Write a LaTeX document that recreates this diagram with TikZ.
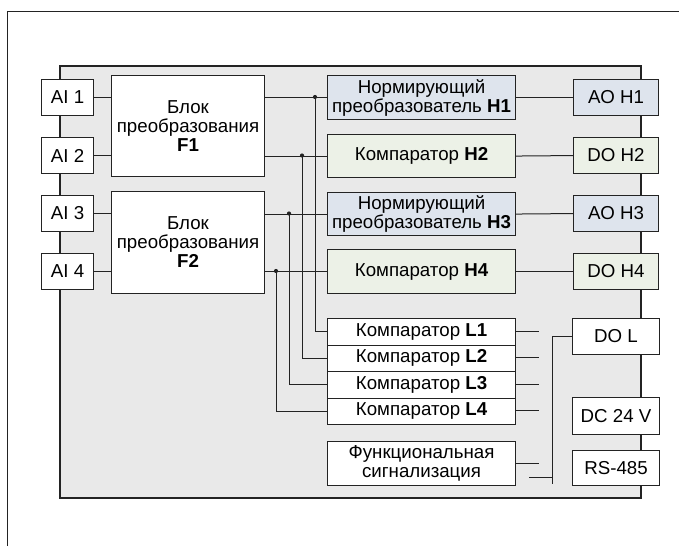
\documentclass[tikz,border=0pt]{standalone}
\usepackage{fontspec}
\setmainfont{Liberation Sans}
\definecolor{panel}{RGB}{233,233,233}
\definecolor{bluef}{RGB}{222,228,237}
\definecolor{greenf}{RGB}{236,241,231}
\definecolor{edge}{RGB}{35,35,35}
\begin{document}
\begin{tikzpicture}[x=1pt,y=-1pt,
  box/.style={draw=edge, line width=1.1pt, fill=white, inner sep=0pt, anchor=north west, align=center, font=\fontsize{18.7}{19}\selectfont},
  conn/.style={draw=edge, line width=1pt},
  dot/.style={circle, fill=edge, inner sep=0pt, minimum size=4.2pt}]
\useasboundingbox (0,0) rectangle (679,546);
% outer frame (partial)
\draw[edge, line width=1pt] (7,546) -- (7,11) -- (679,11);
% panel
\draw[draw=edge, line width=1.1pt, fill=panel] (60,66) rectangle (641,498);
% inputs
\node[box, minimum width=52pt, minimum height=36pt] (AI1) at (41,79) {AI 1};
\node[box, minimum width=52pt, minimum height=36pt] (AI2) at (41,137) {AI 2};
\node[box, minimum width=52pt, minimum height=36pt] (AI3) at (41,195) {AI 3};
\node[box, minimum width=52pt, minimum height=36pt] (AI4) at (41,253) {AI 4};
% blocks
\node[box, minimum width=153pt, minimum height=101pt] (F1) at (111,75) {Блок\\преобразования\\\textbf{F1}};
\node[box, minimum width=153pt, minimum height=102pt] (F2) at (111,191) {Блок\\преобразования\\\textbf{F2}};
% H boxes
\node[box, fill=bluef, minimum width=188pt, minimum height=44pt] (H1) at (327,75) {Нормирующий\\преобразователь \textbf{H1}};
\node[box, fill=greenf, minimum width=188pt, minimum height=43pt] (H2) at (327,134) {Компаратор \textbf{H2}};
\node[box, fill=bluef, minimum width=188pt, minimum height=43pt] (H3) at (327,192) {Нормирующий\\преобразователь \textbf{H3}};
\node[box, fill=greenf, minimum width=188pt, minimum height=44pt] (H4) at (327,249) {Компаратор \textbf{H4}};
% outputs
\node[box, fill=bluef, minimum width=85pt, minimum height=36pt] (AO1) at (573,79) {AO H1};
\node[box, fill=greenf, minimum width=85pt, minimum height=36pt] (DO2) at (573,137) {DO H2};
\node[box, fill=bluef, minimum width=85pt, minimum height=36pt] (AO3) at (573,195) {AO H3};
\node[box, fill=greenf, minimum width=85pt, minimum height=36pt] (DO4) at (573,253) {DO H4};
% L comparators
\node[box, minimum width=188pt, minimum height=26.5pt] (L1) at (327,318) {Компаратор \textbf{L1}};
\node[box, minimum width=188pt, minimum height=26.5pt] (L2) at (327,344.5) {Компаратор \textbf{L2}};
\node[box, minimum width=188pt, minimum height=26.5pt] (L3) at (327,371) {Компаратор \textbf{L3}};
\node[box, minimum width=188pt, minimum height=26.5pt] (L4) at (327,397.5) {Компаратор \textbf{L4}};
\node[box, minimum width=188pt, minimum height=44pt] (FS) at (327,441) {Функциональная\\сигнализация};
% right side
\node[box, minimum width=87pt, minimum height=36pt] (DOL) at (572,318) {DO L};
\node[box, minimum width=87pt, minimum height=37pt] (DC) at (572,397) {DC 24 V};
\node[box, minimum width=87pt, minimum height=35pt] (RS) at (572,450) {RS-485};
% input connections
\draw[conn] (AI1.east) -- (AI1.east -| F1.west);
\draw[conn] (AI2.east) -- (AI2.east -| F1.west);
\draw[conn] (AI3.east) -- (AI3.east -| F2.west);
\draw[conn] (AI4.east) -- (AI4.east -| F2.west);
% F to H
\draw[conn] (H1.west -| F1.east) -- (H1.west);
\draw[conn] (H2.west -| F1.east) -- (H2.west);
\draw[conn] (H3.west -| F2.east) -- (H3.west);
\draw[conn] (H4.west -| F2.east) -- (H4.west);
% H to outputs
\draw[conn] (H1.east) -- (AO1.west);
\draw[conn] (H2.east) -- (DO2.west);
\draw[conn] (H3.east) -- (AO3.west);
\draw[conn] (H4.east) -- (DO4.west);
% junctions
\coordinate (j1) at (315,97);
\coordinate (j2) at (302,155.5);
\coordinate (j3) at (289,213.5);
\coordinate (j4) at (276,271);
\draw[conn] (j1) |- (L1.west);
\draw[conn] (j2) |- (L2.west);
\draw[conn] (j3) |- (L3.west);
\draw[conn] (j4) |- (L4.west);
\node[dot] at (j1) {};
\node[dot] at (j2) {};
\node[dot] at (j3) {};
\node[dot] at (j4) {};
% stubs
\coordinate (s1) at (539,331);
\coordinate (s2) at (539,357.75);
\coordinate (s3) at (539,384.25);
\coordinate (s4) at (539,410.75);
\coordinate (s5) at (539,463);
\draw[conn] (L1.east |- s1) -- (s1);
\draw[conn] (L2.east |- s2) -- (s2);
\draw[conn] (L3.east |- s3) -- (s3);
\draw[conn] (L4.east |- s4) -- (s4);
\draw[conn] (FS.east |- s5) -- (s5);
% bus
\coordinate (bb) at (552,484);
\coordinate (bs) at (529,477);
\draw[conn] (DOL.west) -| (bb);
\draw[conn] (bs) -- (bs -| bb);
\end{tikzpicture}
\end{document}
